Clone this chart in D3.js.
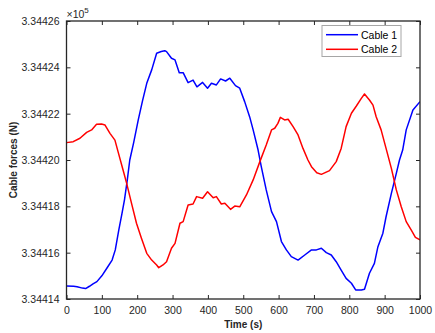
<!DOCTYPE html>
<html><head><meta charset="utf-8">
<script src="https://cdn.jsdelivr.net/npm/d3@7"></script>
<style>body{margin:0;background:#fff}svg{display:block}text{font-family:"Liberation Sans",Arial,sans-serif}</style>
</head><body><svg id="c" width="435" height="333"></svg>
<script>
const seriesNames = ["Cable 1", "Cable 2"];
const seriesColors = ["#0000ff", "#ff0000"];
const xTicks = [0,100,200,300,400,500,600,700,800,900,1000];
const yTicks = [334414,334416,334418,334420,334422,334424,334426];
const base = 334400;
const t1 = [0,20,30,45,54,65,75,86,100,115,129,138,148,157,164,172,179,190,203,215,227,241,255,268,278,283,297,307,319,330,344,358,369,385,399,410,424,436,450,462,478,490,504,518,528,542,551,565,580,594,608,622,636,655,674,693,707,721,735,749,763,777,791,806,818,834,843,857,871,881,895,904,919,933,942,951,961,980,1000];
const c1 = [14.56,14.55,14.53,14.47,14.45,14.55,14.65,14.75,15.00,15.35,15.68,16.12,16.98,17.70,18.28,19.14,20.0,20.75,21.73,22.55,23.31,23.89,24.61,24.68,24.72,24.68,24.39,24.32,23.77,23.77,23.34,23.45,23.16,23.35,23.10,23.31,23.24,23.50,23.41,23.53,23.21,23.10,22.52,21.87,21.30,20.43,19.71,18.71,17.77,17.34,16.48,16.12,15.83,15.68,15.90,16.12,16.12,16.19,16.00,15.90,15.61,15.25,14.89,14.68,14.39,14.39,14.42,15.11,15.54,16.26,16.84,17.55,18.56,19.42,20.0,20.43,21.30,22.16,22.52];
const t2 = [0,19,38,57,71,85,99,109,123,137,146,160,170,184,198,212,227,241,255,261,273,283,297,307,321,330,344,358,368,385,399,415,424,438,448,464,476,490,509,528,547,565,580,589,598,605,617,627,641,655,669,683,693,708,721,744,763,777,791,806,820,834,843,857,867,876,890,904,919,933,947,961,975,987,1000];
const c2 = [20.75,20.79,20.94,21.19,21.30,21.54,21.55,21.51,21.15,20.86,20.35,19.57,19.00,18.13,17.27,16.62,15.97,15.68,15.47,15.35,15.47,15.61,16.19,16.40,17.27,17.34,18.06,18.10,18.42,18.35,18.63,18.37,18.42,18.10,18.13,17.87,18.01,17.98,18.49,19.14,19.93,20.65,21.30,21.37,21.58,21.84,21.73,21.76,21.44,21.08,20.50,20.0,19.71,19.45,19.38,19.54,19.93,20.50,21.44,22.02,22.33,22.66,22.85,22.59,22.37,21.87,21.30,20.50,19.64,18.71,17.98,17.34,16.98,16.66,16.55];

const series = [
  t1.map((t,i)=>({t, v: base + c1[i]})),
  t2.map((t,i)=>({t, v: base + c2[i]}))
];

const L=66.5, R=420, T=21, B=299;
const svg = d3.select("#c");
const x = d3.scaleLinear().domain([0,1000]).range([L,R]);
const y = d3.scaleLinear().domain([334414,334426]).range([B,T]);
const axisColor = "#262626";

const line = d3.line().x(d=>x(d.t)).y(d=>y(d.v));
const g = svg.append("g");
g.append("defs").append("clipPath").attr("id","clip").append("rect").attr("x",L).attr("y",T).attr("width",R-L).attr("height",B-T);
series.forEach((s,i)=>{
  g.append("path").datum(s).attr("d",line).attr("fill","none")
   .attr("stroke",seriesColors[i]).attr("stroke-width",1.5).attr("stroke-linejoin","round")
   .attr("clip-path","url(#clip)");
});

function styleAxis(sel){
  sel.select(".domain").remove();
  sel.selectAll("line").attr("stroke",axisColor).attr("stroke-width",1);
  sel.selectAll("text").attr("fill",axisColor).style("font-size","10.5px");
}
const tl = 4;
const xb = svg.append("g").attr("transform",`translate(0,${B})`)
  .call(d3.axisBottom(x).tickValues(xTicks).tickSize(-tl).tickPadding(8).tickFormat(d3.format("d")));
styleAxis(xb);
const xt = svg.append("g").attr("transform",`translate(0,${T})`)
  .call(d3.axisTop(x).tickValues(xTicks).tickSize(-tl).tickFormat(""));
styleAxis(xt);
const yl = svg.append("g").attr("transform",`translate(${L},0)`)
  .call(d3.axisLeft(y).tickValues(yTicks).tickSize(-tl).tickPadding(7).tickFormat(d=>(d/1e5).toFixed(5)));
styleAxis(yl);
const yr = svg.append("g").attr("transform",`translate(${R},0)`)
  .call(d3.axisRight(y).tickValues(yTicks).tickSize(-tl).tickFormat(""));
styleAxis(yr);

svg.append("rect").attr("x",L).attr("y",T).attr("width",R-L).attr("height",B-T)
  .attr("fill","none").attr("stroke",axisColor).attr("stroke-width",1.3);

// exponent
const ex = svg.append("text").attr("x",L).attr("y",18).attr("fill",axisColor).style("font-size","10.5px");
ex.append("tspan").text("×10");
ex.append("tspan").attr("dy",-5).style("font-size","8px").text("5");

svg.append("text").attr("x",(L+R)/2).attr("y",328).attr("text-anchor","middle")
  .attr("fill",axisColor).style("font-size","10px").style("font-weight","bold").text("Time (s)");
svg.append("text").attr("transform",`translate(17,${(T+B)/2}) rotate(-90)`).attr("text-anchor","middle")
  .attr("fill",axisColor).style("font-size","10px").style("font-weight","bold").text("Cable forces (N)");

// legend
const lg = svg.append("g");
lg.append("rect").attr("x",322).attr("y",25.5).attr("width",79).attr("height",31)
  .attr("fill","#fff").attr("stroke","#a6a6a6").attr("stroke-width",1);
seriesNames.forEach((n,i)=>{
  const yy = 34.7 + i*14.6;
  lg.append("line").attr("x1",326).attr("x2",358).attr("y1",yy).attr("y2",yy)
    .attr("stroke",seriesColors[i]).attr("stroke-width",1.5);
  lg.append("text").attr("x",361).attr("y",yy+3.8).attr("fill","#000").style("font-size","10.5px").text(n);
});
</script></body></html>
